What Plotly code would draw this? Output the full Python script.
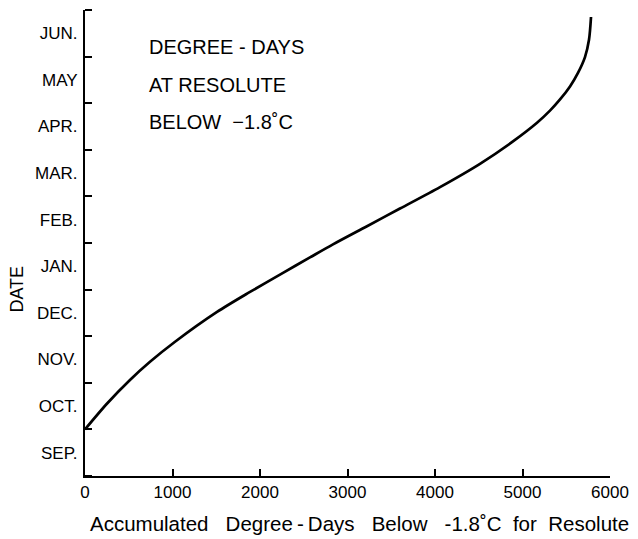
import plotly.graph_objects as go

# Accumulated degree-days (below -1.8 C) and date in months since 1 Sep
degree_days = [0, 250, 514, 743, 1029, 1509, 1886, 2263, 2571, 2834, 3223, 3600,
               4057, 4514, 4891, 5166, 5314, 5429, 5543, 5634, 5714, 5760, 5783]
date_months = [1.00, 1.55, 2.06, 2.45, 2.88, 3.52, 3.95, 4.36, 4.69, 4.97, 5.36, 5.74,
               6.20, 6.70, 7.18, 7.58, 7.84, 8.08, 8.36, 8.65, 8.99, 9.36, 9.85]

month_labels = ["SEP.", "OCT.", "NOV.", "DEC.", "JAN.", "FEB.", "MAR.", "APR.", "MAY", "JUN."]
month_label_pos = [i + 0.5 for i in range(len(month_labels))]
month_bounds = list(range(len(month_labels) + 1))
x_ticks = [0, 1000, 2000, 3000, 4000, 5000, 6000]
title_lines = ["DEGREE - DAYS", "AT RESOLUTE", "BELOW \u00a0\u22121.8\u02daC"]

FONT = "Liberation Sans, Arial, Helvetica, sans-serif"
SP = "\u00a0\u00a0 "
x_title = ("Accumulated" + SP + "Degree\u2009-\u2009Days" + SP + "Below" + SP
           + "-1.8\u02daC\u00a0 for\u00a0 Resolute")

fig = go.Figure()
fig.add_trace(go.Scatter(
    x=degree_days, y=date_months, mode="lines",
    line=dict(color="black", width=2.7, shape="spline", smoothing=0.8),
    showlegend=False, hoverinfo="skip",
))

# page body adds an 8px offset, so the figure is slightly smaller than the window
fig.update_layout(
    width=630, height=531,
    margin=dict(l=77, r=28, t=2, b=63),
    paper_bgcolor="white", plot_bgcolor="white",
    font=dict(family=FONT, color="black", size=16),
    xaxis=dict(
        range=[0, 6000], tickvals=x_ticks, ticktext=[str(v) for v in x_ticks],
        ticks="inside", ticklen=7, tickwidth=1.5, tickcolor="black",
        showline=True, linecolor="black", linewidth=2,
        showgrid=False, zeroline=False, automargin=False,
        tickfont=dict(size=17, family=FONT),
    ),
    yaxis=dict(
        range=[0, 10], tickmode="array", tickvals=month_label_pos, ticktext=month_labels,
        ticks="", ticklen=0,
        minor=dict(tickmode="array", tickvals=month_bounds, ticks="inside",
                   ticklen=7, tickwidth=1.5, tickcolor="black", showgrid=False),
        showline=True, linecolor="black", linewidth=2,
        showgrid=False, zeroline=False, automargin=False,
        tickfont=dict(size=17, family=FONT),
        ticklabelstandoff=2,
    ),
)

fig.add_annotation(text=x_title, x=0.522, y=-0.101, xref="paper", yref="paper",
                   xanchor="center", yanchor="middle", showarrow=False,
                   font=dict(size=20.5, family=FONT, color="black"))
fig.add_annotation(text="DATE", x=-0.1295, y=0.4, xref="paper", yref="paper",
                   xanchor="center", yanchor="middle", showarrow=False, textangle=-90,
                   font=dict(size=18, family=FONT, color="black"))

title_y = [0.92, 0.84, 0.76]
for line, yy in zip(title_lines, title_y):
    fig.add_annotation(text=line, x=0.118, y=yy, xref="paper", yref="paper",
                       xanchor="left", yanchor="middle", showarrow=False,
                       font=dict(size=20, family=FONT, color="black"))

fig.write_html("out.html")
